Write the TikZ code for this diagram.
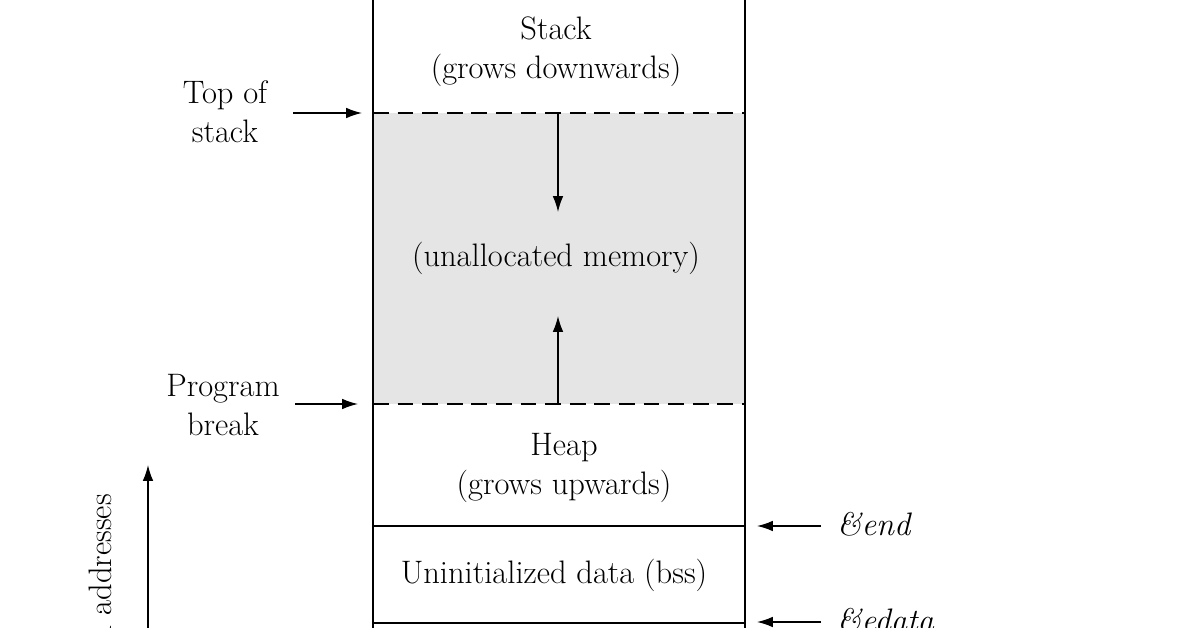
\documentclass[tikz,border=0pt]{standalone}
\usetikzlibrary{positioning,arrows.meta}
\begin{document}
\begin{tikzpicture}[
    x=0.02cm, y=-0.02cm,
    lbl/.style={font=\fontsize{18.5}{22}\selectfont, align=center},
    ptr/.style={-{Latex[length=9pt,width=6pt]}, thick},
    seg/.style={line width=1.3pt}
]
    \useasboundingbox (0,0) rectangle (1197,628);
    % Unallocated region
    \fill[gray!20] (373,113) rectangle (745,404);
    \draw[seg] (373,-10) -- (373,640);
    \draw[seg] (745,-10) -- (745,640);
    \draw[seg, dashed, dash pattern=on 9pt off 5pt] (373,113) -- (745,113);
    \draw[seg, dashed, dash pattern=on 9pt off 5pt] (373,404) -- (745,404);
    \draw[seg] (373,526) -- (745,526);
    \draw[seg] (373,623) -- (745,623);

    % Segment labels
    \node[lbl] (stack) at (556,52) {Stack\\(grows downwards)};
    \node[lbl] (free) at (556,258) {(unallocated memory)};
    \node[lbl] (heap) at (564,468) {Heap\\(grows upwards)};
    \node[lbl] (bss) at (554,575) {Uninitialized data (bss)};

    % Growth arrows
    \coordinate (sdown) at (558,113);
    \coordinate (sdownend) at (558,212);
    \coordinate (hup) at (558,404);
    \coordinate (hupend) at (558,316);
    \draw[ptr] (sdown) -- (sdownend);
    \draw[ptr] (hup) -- (hupend);

    % Left pointers
    \node[lbl] (tos) at (225,112) {Top of\\stack};
    \node[lbl] (brk) at (223,405) {Program\\break};
    \coordinate (tosend) at (362,113);
    \coordinate (brkend) at (358,404);
    \draw[ptr] (293,113) -- (tosend);
    \draw[ptr] (295,404) -- (brkend);

    % Right pointers
    \node[lbl, font=\fontsize{18.5}{22}\selectfont\itshape, anchor=west] (end) at (831,524) {\&end};
    \node[lbl, font=\fontsize{18.5}{22}\selectfont\itshape, anchor=west] (edata) at (831,620) {\&edata};
    \draw[ptr] (end.west) ++(-10,2) -- (757,526);
    \draw[ptr] (edata.west) ++(-10,2) -- (757,622);

    % Address axis
    \coordinate (ax0) at (148,640);
    \coordinate (ax1) at (148,465);
    \draw[ptr] (ax0) -- (ax1);
    \node[lbl, rotate=90, anchor=east] (addr) at (100,488) {Virtual addresses};
\end{tikzpicture}
\end{document}
